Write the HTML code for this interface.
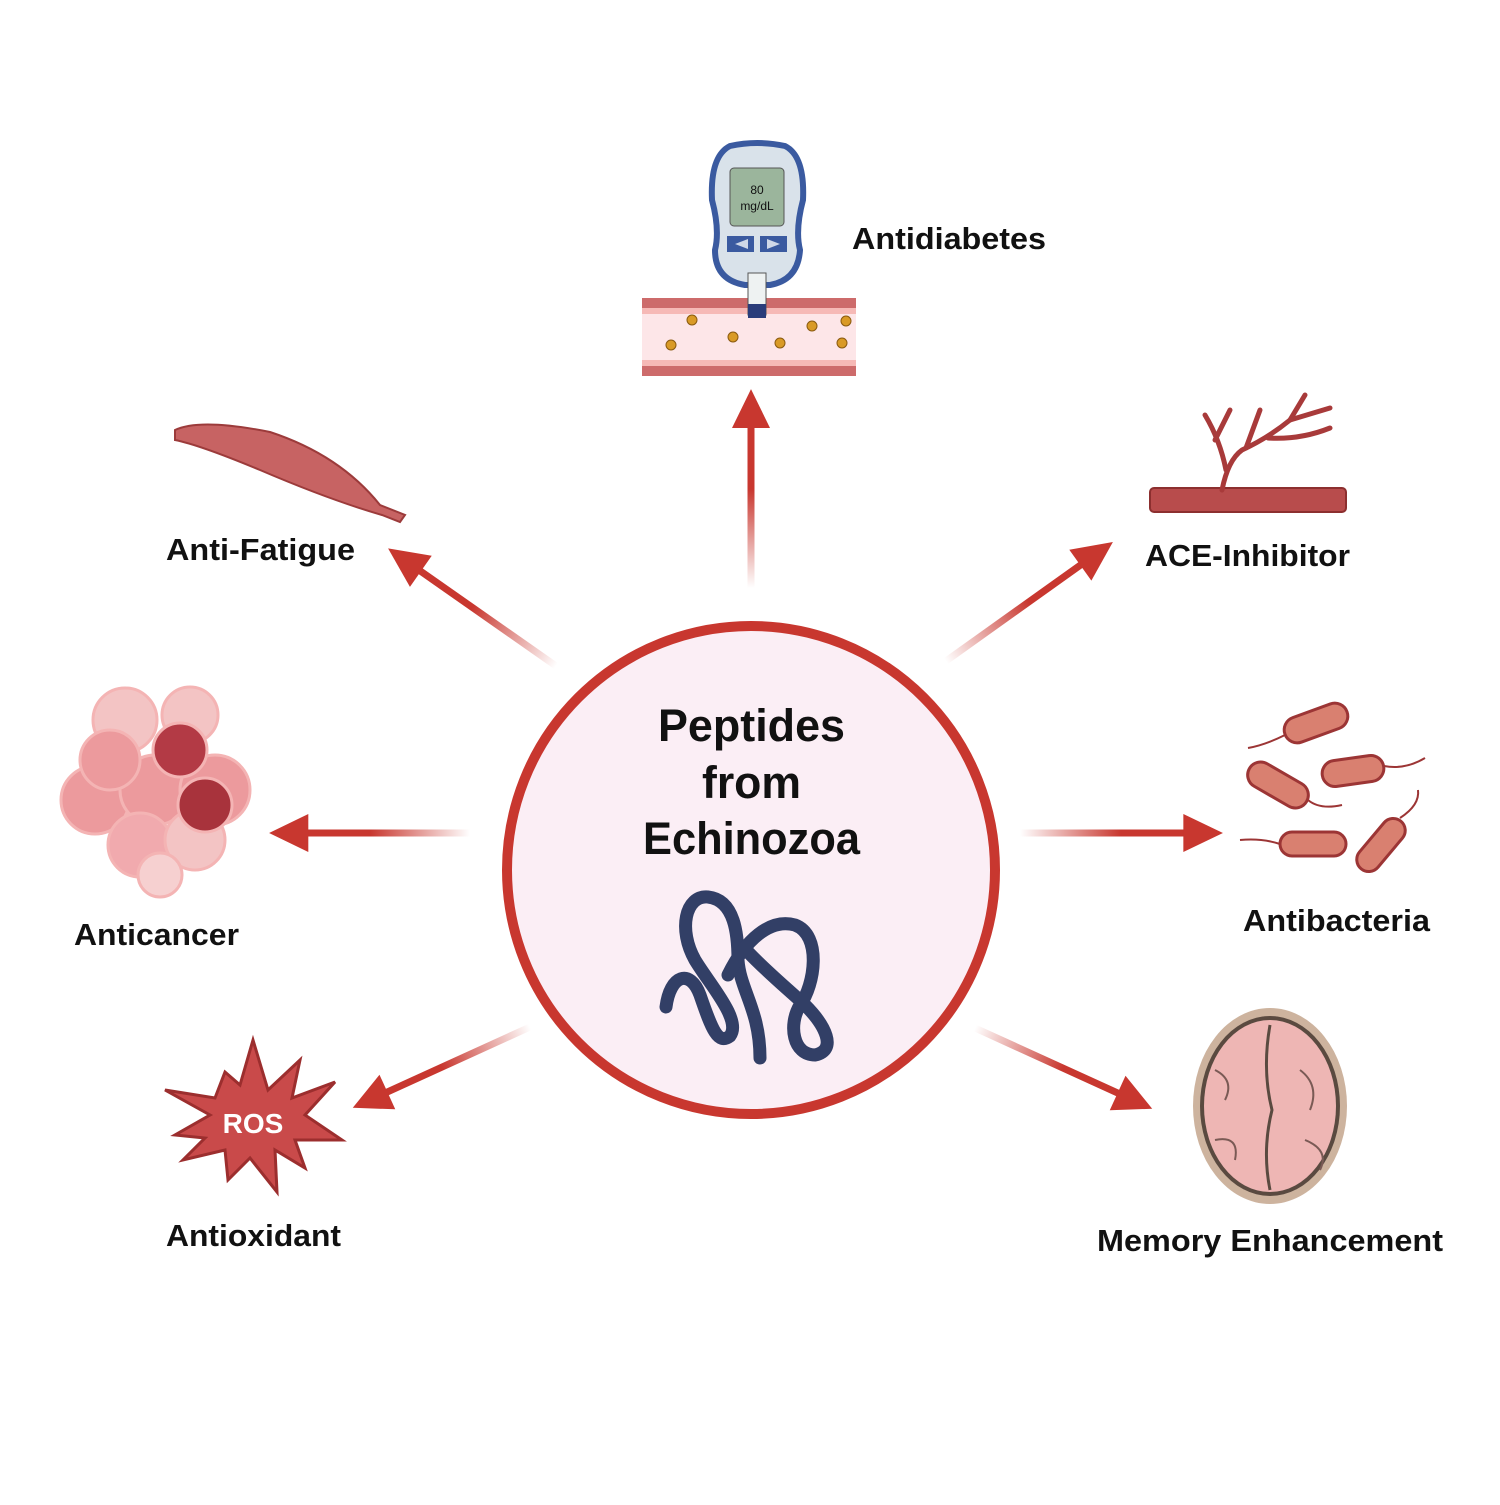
<!DOCTYPE html>
<html><head><meta charset="utf-8"><style>
body{margin:0;background:#fff}
svg text{font-family:"Liberation Sans",Arial,sans-serif;font-weight:bold;fill:#111}
</style></head><body>
<svg width="1500" height="1500" viewBox="0 0 1500 1500" xmlns="http://www.w3.org/2000/svg">
<defs>
<linearGradient id="g" gradientUnits="objectBoundingBox" x1="0" y1="0" x2="1" y2="0">
<stop offset="0" stop-color="#c8372f" stop-opacity="0"/><stop offset="0.6" stop-color="#c8372f"/><stop offset="1" stop-color="#c8372f"/></linearGradient>
<g id="arr"><rect x="0" y="-3.5" width="170" height="7" fill="url(#g)"/><polygon points="165,-19 205,0 165,19" fill="#c8372f"/></g>
</defs>
<use href="#arr" transform="translate(751,588) rotate(-90) scale(0.97,1)"/>
<use href="#arr" transform="translate(470,833) rotate(180) scale(0.98,1)"/>
<use href="#arr" transform="translate(1020,833) scale(0.99,1)"/>
<use href="#arr" transform="translate(556,666) rotate(-145)"/>
<use href="#arr" transform="translate(946,661) rotate(-35.5)"/>
<use href="#arr" transform="translate(530,1027) rotate(155.5) scale(0.95,1)"/>
<use href="#arr" transform="translate(975,1028) rotate(24.5) scale(0.95,1)"/>
<circle cx="751" cy="870" r="244" fill="#fbeef5" stroke="#c8372f" stroke-width="10"/>
<text x="658" y="741" font-size="45" textLength="187" lengthAdjust="spacingAndGlyphs">Peptides</text>
<text x="702" y="798" font-size="45" textLength="99" lengthAdjust="spacingAndGlyphs">from</text>
<text x="643" y="854" font-size="45" textLength="217" lengthAdjust="spacingAndGlyphs">Echinozoa</text>
<g fill="none" stroke="#323f66" stroke-width="13" stroke-linecap="round">
<path d="M666,1007 C670,975 690,968 700,995 C712,1030 718,1045 730,1036 C742,1020 710,985 695,960 C678,930 685,895 708,897 C735,900 738,935 738,960 C740,990 760,1010 760,1058"/>
<path d="M728,975 C745,940 770,918 795,925 C822,935 815,985 800,1005 C788,1025 793,1055 815,1055 C838,1050 825,1025 805,1005 C783,985 765,970 748,952"/>
</g>
<text x="852" y="249" font-size="31" textLength="194" lengthAdjust="spacingAndGlyphs">Antidiabetes</text>
<text x="1145" y="566" font-size="31" textLength="205" lengthAdjust="spacingAndGlyphs">ACE-Inhibitor</text>
<text x="166" y="560" font-size="31" textLength="189" lengthAdjust="spacingAndGlyphs">Anti-Fatigue</text>
<text x="74" y="945" font-size="31" textLength="165" lengthAdjust="spacingAndGlyphs">Anticancer</text>
<text x="1243" y="931" font-size="31" textLength="187" lengthAdjust="spacingAndGlyphs">Antibacteria</text>
<text x="166" y="1246" font-size="31" textLength="175" lengthAdjust="spacingAndGlyphs">Antioxidant</text>
<text x="1097" y="1251" font-size="31" textLength="346" lengthAdjust="spacingAndGlyphs">Memory Enhancement</text>
<rect x="642" y="298" width="214" height="78" fill="#fde6e8"/>
<rect x="642" y="298" width="214" height="10" fill="#cd6b6b"/><rect x="642" y="308" width="214" height="6" fill="#f6b9b6"/>
<rect x="642" y="366" width="214" height="10" fill="#cd6b6b"/><rect x="642" y="360" width="214" height="6" fill="#f6b9b6"/>
<g fill="#d99a26" stroke="#8a5a10" stroke-width="1">
<circle cx="692" cy="320" r="5"/><circle cx="671" cy="345" r="5"/><circle cx="733" cy="337" r="5"/><circle cx="780" cy="343" r="5"/><circle cx="812" cy="326" r="5"/><circle cx="846" cy="321" r="5"/><circle cx="842" cy="343" r="5"/></g>
<path d="M730,146 Q757,140 785,146 Q805,156 803,200 Q795,230 800,250 Q798,280 770,285 L745,285 Q715,280 715,250 Q720,230 712,200 Q710,156 730,146Z" fill="#d9e2ea" stroke="#3a5aa0" stroke-width="6"/>
<rect x="730" y="168" width="54" height="58" rx="4" fill="#9bb59c" stroke="#555" stroke-width="1"/>
<text x="757" y="194" font-size="12" text-anchor="middle" style="font-weight:normal">80</text>
<text x="757" y="210" font-size="12" text-anchor="middle" style="font-weight:normal">mg/dL</text>
<rect x="727" y="236" width="27" height="16" fill="#3a5aa0"/><rect x="760" y="236" width="27" height="16" fill="#3a5aa0"/>
<polygon points="735,244 748,239 748,249" fill="#cfd8e8"/><polygon points="780,244 767,239 767,249" fill="#cfd8e8"/>
<rect x="748" y="273" width="18" height="42" fill="#eef2f2" stroke="#555"/><rect x="748" y="304" width="18" height="14" fill="#2a3c7a"/>
<path d="M175,430 Q200,418 270,432 Q340,455 380,505 L405,515 L400,522 L382,515 Q330,500 260,470 Q200,445 175,440Z" fill="#c76363" stroke="#9c3b3b" stroke-width="2"/>
<rect x="1150" y="488" width="196" height="24" rx="4" fill="#b84c4c" stroke="#8c2f2f" stroke-width="2"/>
<g fill="none" stroke="#a83a3a" stroke-width="5" stroke-linecap="round">
<path d="M1222,490 Q1228,460 1242,450 Q1268,438 1290,420 L1305,395"/>
<path d="M1226,470 Q1220,440 1205,415"/><path d="M1215,440 L1230,410"/>
<path d="M1268,438 Q1300,440 1330,428"/><path d="M1290,420 L1330,408"/><path d="M1246,448 L1260,410"/>
</g>
<g stroke="#f4b4b4" stroke-width="3">
<circle cx="125" cy="720" r="32" fill="#f3c4c4"/><circle cx="190" cy="715" r="28" fill="#f3c4c4"/>
<circle cx="95" cy="800" r="34" fill="#ec9a9d"/><circle cx="155" cy="790" r="35" fill="#ec9a9d"/>
<circle cx="215" cy="790" r="35" fill="#ec9a9d"/><circle cx="110" cy="760" r="30" fill="#ec9a9d"/>
<circle cx="140" cy="845" r="32" fill="#f1aaae"/><circle cx="195" cy="840" r="30" fill="#f3c4c4"/>
<circle cx="160" cy="875" r="22" fill="#f6d0d0"/>
<circle cx="180" cy="750" r="27" fill="#b33a45"/><circle cx="205" cy="805" r="27" fill="#a8333c"/>
</g>
<g fill="#d98070" stroke="#9c3535" stroke-width="3">
<rect x="1283" y="710" width="66" height="26" rx="13" transform="rotate(-20 1316 723)"/>
<rect x="1245" y="772" width="66" height="26" rx="13" transform="rotate(30 1278 785)"/>
<rect x="1322" y="758" width="62" height="26" rx="13" transform="rotate(-8 1353 771)"/>
<rect x="1280" y="832" width="66" height="24" rx="12"/>
<rect x="1350" y="833" width="62" height="24" rx="12" transform="rotate(-50 1381 845)"/>
</g>
<g fill="none" stroke="#9c3535" stroke-width="2">
<path d="M1285,735 Q1265,745 1248,748"/><path d="M1308,800 Q1320,810 1342,805"/>
<path d="M1384,766 Q1405,770 1425,758"/><path d="M1280,844 Q1262,838 1240,840"/><path d="M1400,818 Q1420,805 1418,790"/>
</g>
<polygon points="253,1040 268,1090 300,1060 292,1098 335,1082 305,1115 342,1140 295,1140 305,1168 275,1150 277,1192 250,1158 228,1180 225,1150 183,1160 205,1138 175,1135 210,1115 165,1090 215,1098 225,1072 240,1085" fill="#c94a4a" stroke="#9c2e2e" stroke-width="3"/>
<text x="253" y="1133" font-size="28" text-anchor="middle" style="fill:#fff">ROS</text>
<ellipse cx="1270" cy="1106" rx="77" ry="98" fill="#cdb39e"/>
<ellipse cx="1270" cy="1106" rx="70" ry="90" fill="#5a4a40"/>
<ellipse cx="1270" cy="1106" rx="66" ry="86" fill="#eeb6b4"/>
<path d="M1270,1025 Q1262,1070 1272,1110 Q1262,1150 1270,1190" fill="none" stroke="#5a4a40" stroke-width="3"/>
<g fill="none" stroke="#7a5a55" stroke-width="2">
<path d="M1215,1070 Q1235,1080 1225,1100"/><path d="M1300,1070 Q1320,1085 1310,1110"/><path d="M1215,1140 Q1240,1135 1235,1160"/><path d="M1305,1140 Q1330,1150 1320,1170"/></g>
</svg>
</body></html>
